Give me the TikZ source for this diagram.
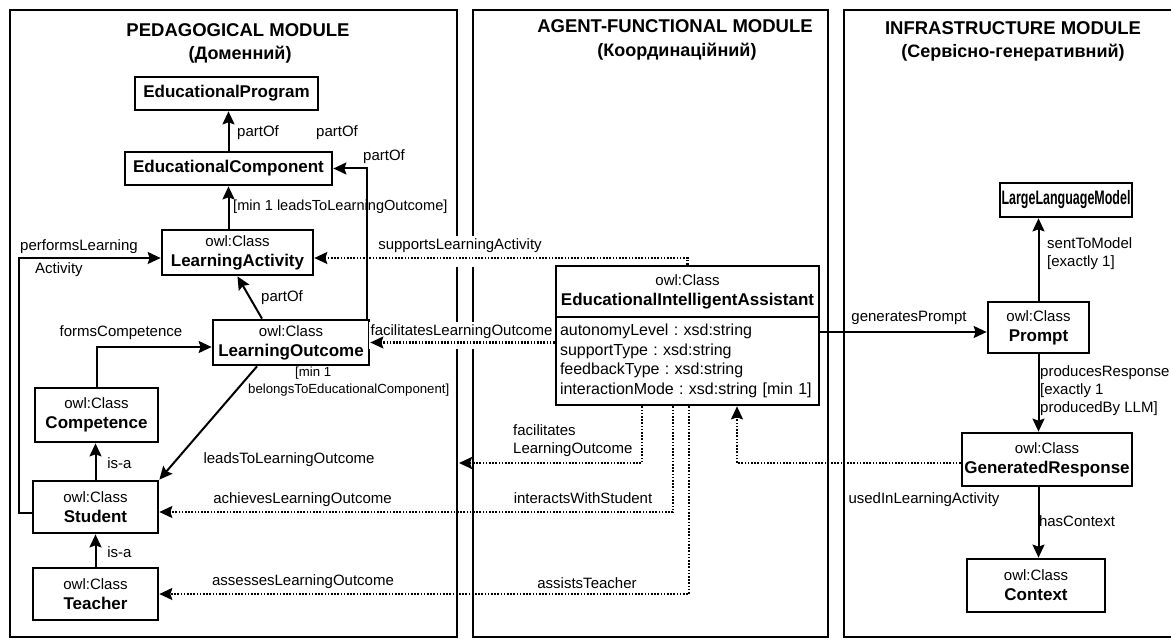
\documentclass[tikz,border=0pt]{standalone}
\usepackage{fontspec}
\setmainfont{Liberation Sans}
\usetikzlibrary{arrows.meta}
\frenchspacing

\newcommand\owlcls[1]{{\fontsize{15}{18}\selectfont owl:Class}\\\textbf{#1}}

\begin{document}
\begin{tikzpicture}[x=1pt,y=-1pt,
  panel/.style={draw, line width=2.4pt},
  title/.style={inner sep=0, font=\fontsize{18.5}{21}\selectfont\bfseries},
  subtitle/.style={inner sep=0, font=\fontsize{18}{21}\selectfont\bfseries},
  cls/.style={draw, line width=2.7pt, inner sep=0, align=center, fill=white,
              font=\fontsize{17}{20}\selectfont},
  lbl/.style={inner sep=0, font=\fontsize{15}{18}\selectfont, align=left},
  small/.style={font=\fontsize{13.2}{16}\selectfont},
  mask/.style={fill=white, inner xsep=2pt, inner ysep=3pt},
  conn/.style={line width=2pt, -{Stealth[length=13pt,width=12pt,inset=2pt]}},
  dotconn/.style={conn, line width=2.1pt, dash pattern=on 1.6pt off 1.6pt},
]
\useasboundingbox (0,0) rectangle (1171,639);
\fill[white] (0,0) rectangle (1171,639);
\clip (0,0) rectangle (1171,639);

% module frames
\draw[panel] (10,10) rectangle (457,637);
\draw[panel] (473,10) rectangle (828,637);
\draw[panel] (844,10) rectangle (1185,637);

% module titles
\node[title] (t1) at (238,30) {PEDAGOGICAL MODULE};
\node[subtitle] (s1) at (240,55) {(Доменний)};
\node[title] (t2) at (675,26) {AGENT-FUNCTIONAL MODULE};
\node[subtitle] (s2) at (677,52) {(Координаційний)};
\node[title] (t3) at (1013,28) {INFRASTRUCTURE MODULE};
\node[subtitle] (s3) at (1013,53) {(Сервісно-генеративний)};

% pedagogical classes
\node[cls, minimum width=183pt, minimum height=33pt] (ep) at (226.5,93.5) {\bfseries EducationalProgram};
\node[cls, minimum width=207pt, minimum height=33pt] (ec) at (228.5,168.5) {\bfseries EducationalComponent};
\node[cls, minimum width=151pt, minimum height=45pt] (la) at (237.5,252.5) {\owlcls{LearningActivity}};
\node[cls, minimum width=156pt, minimum height=45pt] (lo) at (291,342.5) {\owlcls{LearningOutcome}};
\node[cls, minimum width=123pt, minimum height=54pt] (comp) at (96.5,415) {\owlcls{Competence}};
\node[cls, minimum width=125pt, minimum height=52pt] (student) at (95.5,507) {\owlcls{Student}};
\node[cls, minimum width=125pt, minimum height=52pt] (teacher) at (95.5,594) {\owlcls{Teacher}};

% agent class
\node[cls, minimum width=263pt, minimum height=51pt] (eia) at (687.5,291.5) {\owlcls{EducationalIntelligentAssistant}};
\node[cls, minimum width=263pt, minimum height=88pt, text width=255pt, align=left,
      font=\fontsize{16}{19.5}\selectfont] (attr) at (687.5,361)
  {autonomyLevel : xsd:string\\supportType : xsd:string\\feedbackType : xsd:string\\interactionMode : xsd:string [min 1]};

% infrastructure classes
\node[cls, minimum width=132pt, minimum height=34pt, font=\fontsize{19.5}{22}\selectfont] (llm) at (1066,200) {\scalebox{0.64}[1]{\bfseries LargeLanguageModel}};
\node[cls, minimum width=101pt, minimum height=51pt] (prompt) at (1038.5,327.5) {\owlcls{Prompt}};
\node[cls, minimum width=170pt, minimum height=53pt] (gr) at (1047,459.5) {\owlcls{GeneratedResponse}};
\node[cls, minimum width=138pt, minimum height=53pt] (ctx) at (1036,585.5) {\owlcls{Context}};

% labels that sit across the module frames
\node[lbl, mask, anchor=base, text depth=14pt] (lsup) at (460,250) {supportsLearningActivity};
\node[lbl, mask, anchor=base, text depth=10pt] (lfac) at (461.5,336) {facilitatesLearningOutcome};

% pedagogical relations
\draw[conn] (ec.north) -- (ec.north |- ep.south);
\draw[conn] (ec.south |- la.north) -- (ec.south);
\draw[conn] ([xshift=-3pt]lo.north east) |- (ec.east);
\draw[conn] ([xshift=-29pt]lo.north) -- (la.south);
\draw[conn] ([yshift=-6pt]student.west) -- ++(-13,0) |- ([yshift=-5.5pt]la.west);
\draw[conn] (comp.north) |- ([yshift=-4.5pt]lo.west);
\draw[conn] (student.north) -- (student.north |- comp.south);
\draw[conn] (teacher.north) -- (teacher.north |- student.south);
\draw[conn] ([xshift=-34pt]lo.south) -- (student.north east);

% agent relations
\coordinate (flo) at (459,463);
\coordinate (gpin) at ([yshift=-4.5pt]prompt.west);
\draw[dotconn] (eia.north) |- ([yshift=-5.5pt]la.east);
\draw[dotconn] (attr.west |- lo.east) -- (lo.east);
\draw[dotconn] ([xshift=-45.5pt]attr.south) |- (flo);
\draw[dotconn] ([xshift=-14.5pt]attr.south) |- ([yshift=-5pt]student.east);
\draw[dotconn] ([xshift=1.5pt]attr.south) |- (teacher.east);
\draw[conn] (attr.east |- gpin) -- (gpin);

% infrastructure relations
\draw[conn] (prompt.north) -- (prompt.north |- llm.south);
\draw[conn] (prompt.south) -- (prompt.south |- gr.north);
\draw[conn] (prompt.south |- gr.south) -- (prompt.south |- ctx.north);
\draw[dotconn] ([yshift=-3.5pt]gr.west) -| ([xshift=49.5pt]attr.south);

% relation labels
\node[lbl, anchor=west] (l1) at (237,133) {partOf};
\node[lbl] (l2) at (337,133) {partOf};
\node[lbl, anchor=west] (l3) at (363,157) {partOf};
\node[lbl, anchor=west, font=\fontsize{14.6}{17}\selectfont] (l4) at (233,207) {[min 1 leadsToLearningOutcome]};
\node[lbl] (l5) at (282,298) {partOf};
\node[lbl, anchor=west] (l6) at (20,247) {performsLearning};
\node[lbl, anchor=west] (l7) at (35,270) {Activity};
\node[lbl] (l8) at (121,333) {formsCompetence};
\node[lbl] (l9) at (119.5,463) {is-a};
\node[lbl] (l10) at (119.5,552) {is-a};
\node[lbl, small, anchor=west] (l11) at (295,373) {[min 1};
\node[lbl, small, anchor=west] (l12) at (248,390) {belongsToEducationalComponent]};
\node[lbl] (l13) at (289,460) {leadsToLearningOutcome};
\node[lbl] (l14) at (302.5,500) {achievesLearningOutcome};
\node[lbl] (l15) at (303,582) {assessesLearningOutcome};
\node[lbl, anchor=west] (l16) at (513,441) {facilitates\\LearningOutcome};
\node[lbl] (l17) at (583,498) {interactsWithStudent};
\node[lbl] (l18) at (587,583) {assistsTeacher};
\node[lbl] (l19) at (909,318) {generatesPrompt};
\node[lbl, anchor=west] (l20) at (1047,254) {sentToModel\\{}[exactly 1]};
\node[lbl, anchor=west] (l21) at (1040,391) {producesResponse\\{}[exactly 1\\producedBy LLM]};
\node[lbl] (l22) at (924,500) {usedInLearningActivity};
\node[lbl] (l23) at (1077,521) {hasContext};
\end{tikzpicture}
\end{document}
